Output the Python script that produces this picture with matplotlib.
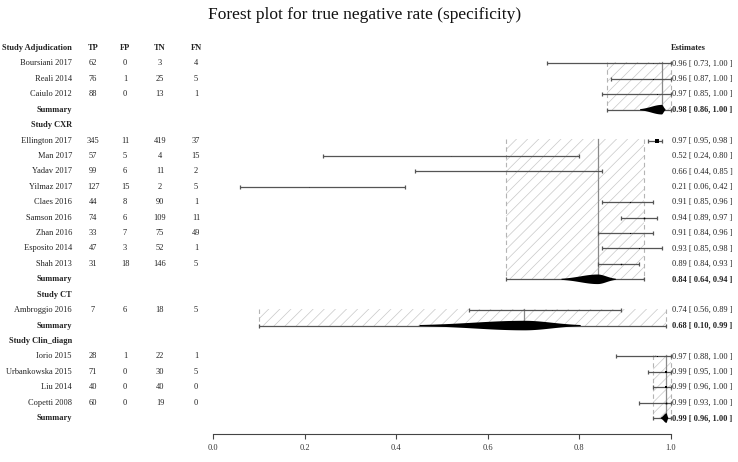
import numpy as np
import matplotlib
matplotlib.use("Agg")
import matplotlib.pyplot as plt
from matplotlib.transforms import blended_transform_factory
from matplotlib.patches import Rectangle, Polygon

# ---------------- data ----------------
groups = ["Adjudication", "CXR", "CT", "Clin_diagn"]

study_group = [0, 0, 0,
               1, 1, 1, 1, 1, 1, 1, 1, 1,
               2,
               3, 3, 3, 3]
study_names = ["Boursiani 2017", "Reali 2014", "Caiulo 2012",
               "Ellington 2017", "Man 2017", "Yadav 2017", "Yilmaz 2017", "Claes 2016",
               "Samson 2016", "Zhan 2016", "Esposito 2014", "Shah 2013",
               "Ambroggio 2016",
               "Iorio 2015", "Urbankowska 2015", "Liu 2014", "Copetti 2008"]
TP = [62, 76, 88, 345, 57, 99, 127, 44, 74, 33, 47, 31, 7, 28, 71, 40, 60]
FP = [0, 1, 0, 11, 5, 6, 15, 8, 6, 7, 3, 18, 6, 1, 0, 0, 0]
TN = [3, 25, 13, 419, 4, 11, 2, 90, 109, 75, 52, 146, 18, 22, 30, 40, 19]
FN = [4, 5, 1, 37, 15, 2, 5, 1, 11, 49, 1, 5, 5, 1, 5, 0, 0]
est = [0.96, 0.96, 0.97, 0.97, 0.52, 0.66, 0.21, 0.91, 0.94, 0.91, 0.93, 0.89, 0.74, 0.97, 0.99, 0.99, 0.99]
lo = [0.73, 0.87, 0.85, 0.95, 0.24, 0.44, 0.06, 0.85, 0.89, 0.84, 0.85, 0.84, 0.56, 0.88, 0.95, 0.96, 0.93]
hi = [1.00, 1.00, 1.00, 0.98, 0.80, 0.85, 0.42, 0.96, 0.97, 0.96, 0.98, 0.93, 0.89, 1.00, 1.00, 1.00, 1.00]

sum_est = [0.98, 0.84, 0.68, 0.99]
sum_lo = [0.86, 0.64, 0.10, 0.96]
sum_hi = [1.00, 0.94, 0.99, 1.00]

xticks = [0.0, 0.2, 0.4, 0.6, 0.8, 1.0]
title = "Forest plot for true negative rate (specificity)"

# ---------------- layout ----------------
W, H = 738, 462
FONT = "Liberation Serif"
fs = 6.0
row0_px, row_step = 48.0, 15.42
ax_top_px, ax_bot_px = 40.0, 434.0
x0_px, x1_px = 213.0, 671.0

fig = plt.figure(figsize=(W / 100, H / 100), dpi=100)
ax = fig.add_axes([x0_px / W, 1 - ax_bot_px / H, (x1_px - x0_px) / W, (ax_bot_px - ax_top_px) / H])
ax.set_xlim(0, 1)
ax.set_ylim((ax_bot_px - row0_px) / row_step, (ax_top_px - row0_px) / row_step)
plt.rcParams["hatch.linewidth"] = 0.5

tr = blended_transform_factory(fig.transFigure, ax.transData)


def tx(px, row, s, ha="center", bold=False, color="#222222"):
    fig.text(px / W, row, s, transform=tr, ha=ha, va="center", fontsize=fs,
             family=FONT, fontweight="bold" if bold else "normal", color=color)


name_px, tp_px, fp_px, tn_px, fn_px, est_px = 72, 93, 125, 160, 196, 672

line_c = "#555555"

row = 0
for g, gname in enumerate(groups):
    tx(name_px, row, "Study " + gname, ha="right", bold=True)
    if g == 0:
        for px, s in zip([tp_px, fp_px, tn_px, fn_px], ["TP", "FP", "TN", "FN"]):
            tx(px, row, s, bold=True)
        tx(est_px - 1, row, "Estimates", ha="left", bold=True)
    row += 1
    idx = [i for i, gg in enumerate(study_group) if gg == g]
    first_row = row
    rows_g = []
    for i in idx:
        tx(name_px, row, study_names[i], ha="right")
        tx(tp_px, row, str(TP[i]))
        tx(fp_px, row, str(FP[i]))
        tx(tn_px, row, str(TN[i]))
        tx(fn_px, row, str(FN[i]))
        tx(est_px, row, f"{est[i]:.2f} [ {lo[i]:.2f}, {hi[i]:.2f} ]", ha="left")
        rows_g.append(row)
        row += 1
    srow = row
    # hatched region for summary CI
    top = first_row - 0.08
    ax.add_patch(Rectangle((sum_lo[g], top), sum_hi[g] - sum_lo[g], srow - top,
                           facecolor="none", edgecolor="#c8c8c8", hatch="///", lw=0, zorder=1))
    for xv in (sum_lo[g], sum_hi[g]):
        ax.plot([xv, xv], [top, srow], color="#b4b4b4", lw=0.8, ls=(0, (4, 3)), zorder=2, clip_on=False)
    ax.plot([sum_est[g], sum_est[g]], [top, srow], color="#8a8a8a", lw=0.9, zorder=2, clip_on=False)
    # study CIs
    for i, r in zip(idx, rows_g):
        ax.errorbar([est[i]], [r], xerr=[[est[i] - lo[i]], [hi[i] - est[i]]], fmt="none",
                    ecolor=line_c, elinewidth=0.9, capsize=1.6, capthick=0.9, zorder=3, clip_on=False)
        side = min(0.12 / max(hi[i] - lo[i], 0.01), 4.5)
        ax.plot([est[i]], [r], marker="s", ms=side * 0.72, color="black", mew=0, zorder=4, clip_on=False)
    # summary line
    ax.errorbar([sum_est[g]], [srow], xerr=[[sum_est[g] - sum_lo[g]], [sum_hi[g] - sum_est[g]]], fmt="none",
                ecolor=line_c, elinewidth=0.9, capsize=1.6, capthick=0.9, zorder=3, clip_on=False)
    # summary density-like shape (asymmetric, from the CI half-widths)
    k = 0.19
    sl = (sum_est[g] - sum_lo[g]) * k
    sr = max((sum_hi[g] - sum_est[g]) * k, 1e-4)
    xs = np.linspace(sum_lo[g], sum_hi[g], 800)
    z = np.where(xs < sum_est[g], (xs - sum_est[g]) / sl, (xs - sum_est[g]) / sr)
    h = 0.31 * np.exp(-0.5 * z ** 2)
    keep = h > 0.035
    xs, h = xs[keep], h[keep]
    poly = np.column_stack([np.r_[xs, xs[::-1]], np.r_[srow - h, (srow + h)[::-1]]])
    ax.add_patch(Polygon(poly, closed=True, facecolor="black", edgecolor="none", zorder=5, clip_on=False))
    tx(name_px, srow, "Summary", ha="right", bold=True)
    tx(est_px, srow, f"{sum_est[g]:.2f} [ {sum_lo[g]:.2f}, {sum_hi[g]:.2f} ]", ha="left", bold=True)
    row += 1

# axis styling
for s in ("top", "left", "right"):
    ax.spines[s].set_visible(False)
ax.spines["bottom"].set_color("#444444")
ax.spines["bottom"].set_linewidth(0.8)
ax.set_yticks([])
ax.set_xticks(xticks)
ax.set_xticklabels([f"{v:.1f}" for v in xticks], family=FONT, fontsize=fs, color="#333333")
ax.tick_params(axis="x", length=3.5, width=0.8, color="#444444", pad=4)

fig.text(364.5 / W, 1 - 15 / H, title, ha="center", va="center", fontsize=12.5, family=FONT, color="#111111")

fig.savefig("out.png", dpi=100)
